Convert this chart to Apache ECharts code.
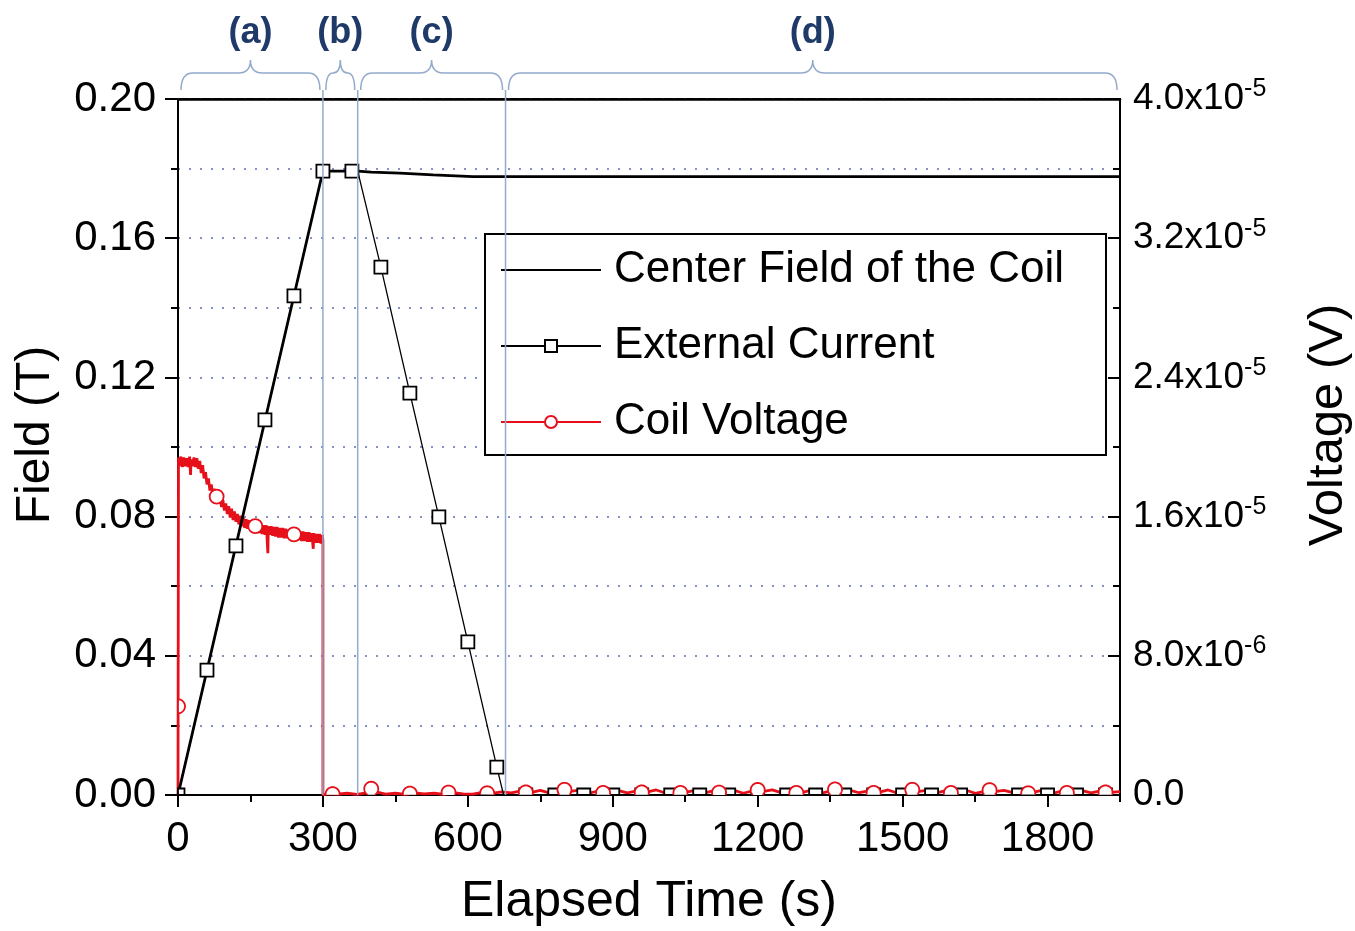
<!DOCTYPE html>
<html>
<head>
<meta charset="utf-8">
<script src="https://cdn.jsdelivr.net/npm/echarts@6/dist/echarts.min.js"></script>
<style>
html,body{margin:0;padding:0;background:#fff;}
#chart{width:1355px;height:931px;}
</style>
</head>
<body>
<div id="chart"></div>
<script>
// ---------------- data ----------------
const xTickLabels = ['0', '300', '600', '900', '1200', '1500', '1800'];
const leftTickLabels = ['0.00', '0.04', '0.08', '0.12', '0.16', '0.20'];
const rightTickMantissa = ['0.0', '8.0x10', '1.6x10', '2.4x10', '3.2x10', '4.0x10'];
const rightTickExponent = ['', '-6', '-5', '-5', '-5', '-5'];

const seriesNames = ['Center Field of the Coil', 'External Current', 'Coil Voltage'];

// Center field of the coil (T)
const fieldTime  = [0, 300, 372, 400, 459, 528, 610, 1950];
const fieldValue = [0, 0.1793, 0.1793, 0.1790, 0.1787, 0.1782, 0.1777, 0.1777];

// External current (expressed as field, T)
const currentTime  = [0, 60, 120, 180, 240, 300, 360, 372, 420, 480, 540, 600, 660, 674,
                      720, 780, 840, 900, 960, 1020, 1080, 1140, 1200, 1260, 1320, 1380,
                      1440, 1500, 1560, 1620, 1680, 1740, 1800, 1860, 1920, 1950];
const currentValue = [0, 0.0359, 0.0716, 0.1078, 0.1434, 0.1793, 0.1793, 0.1793, 0.1517, 0.1155,
                      0.0799, 0.0440, 0.0080, 0,
                      0, 0, 0, 0, 0, 0, 0, 0, 0, 0, 0, 0, 0, 0, 0, 0, 0, 0, 0, 0, 0, 0];
const currentCornerTimes = [372, 674, 1950]; // line vertices without a marker

// Coil voltage trace (microvolts)
const coilVoltageTrace = [
  [0,0],[1,19.4],[3,18.9],[6,19.45],[9,18.85],[12,19.4],[15,18.9],[18,19.35],[21,18.85],[24,19.45],
  [26,18.4],[27,19.3],[30,18.9],[33,19.4],[36,18.85],[39,19.35],[42,18.75],[45,19.2],[48,18.5],
  [51,18.95],[54,18.2],[57,18.55],[60,17.85],[63,18.2],[66,17.5],[69,17.85],[72,17.2],[75,17.6],
  [78,17.0],[81,17.4],[84,16.75],[87,17.2],[90,16.55],[93,16.95],[96,16.35],[99,16.75],[102,16.15],
  [105,16.6],[108,15.95],[111,16.45],[114,15.8],[117,16.3],[120,15.7],[123,16.15],[126,15.55],
  [129,16.05],[132,15.45],[135,15.95],[138,15.35],[141,15.85],[144,15.3],[147,15.8],[150,15.2],
  [153,15.75],[156,15.15],[159,15.7],[162,15.1],[165,15.65],[168,15.05],[171,15.55],[174,15.0],
  [177,15.5],[180,14.95],[183,15.5],[186,13.9],[187,15.45],[190,14.95],[193,15.45],[196,14.9],
  [199,15.4],[202,14.85],[205,15.4],[208,14.8],[211,15.35],[214,14.8],[217,15.35],[220,14.75],
  [223,15.3],[226,14.75],[229,15.25],[232,14.7],[235,15.25],[238,14.7],[241,15.2],[244,14.65],
  [247,15.2],[250,14.65],[253,15.15],[256,14.6],[259,15.15],[262,14.6],[265,15.1],[268,14.55],
  [271,15.1],[274,14.55],[277,15.05],[280,14.15],[281,15.05],[284,14.5],[287,15.0],[290,14.5],
  [293,15.0],[296,14.45],[299,14.95],[300,14.6],[300,0.0],
  [310,0.08],[330,0.05],[350,0.1],[370,0.04],[390,0.12],[410,0.18],[430,0.05],[450,0.1],[470,0.03],
  [490,0.12],[510,0.06],[530,0.1],[550,0.04],[570,0.14],[590,0.07],[610,0.05],[630,0.15],[650,0.09],
  [670,0.18],[690,0.12],[710,0.24],[730,0.14],[750,0.27],[770,0.11],[790,0.25],[810,0.19],[830,0.28],
  [850,0.1],[870,0.23],[890,0.15],[910,0.27],[930,0.12],[950,0.24],[970,0.16],[990,0.29],[1010,0.1],
  [1030,0.21],[1050,0.15],[1070,0.27],[1090,0.12],[1110,0.25],[1130,0.16],[1150,0.28],[1170,0.1],
  [1190,0.24],[1210,0.2],[1230,0.29],[1250,0.12],[1270,0.25],[1290,0.14],[1310,0.27],[1330,0.1],
  [1350,0.22],[1370,0.2],[1390,0.28],[1410,0.13],[1430,0.24],[1450,0.15],[1470,0.29],[1490,0.1],
  [1510,0.22],[1530,0.19],[1550,0.27],[1570,0.12],[1590,0.25],[1610,0.15],[1630,0.29],[1650,0.1],
  [1670,0.21],[1690,0.2],[1710,0.27],[1730,0.12],[1750,0.24],[1770,0.15],[1790,0.28],[1810,0.1],
  [1830,0.22],[1850,0.15],[1870,0.27],[1890,0.12],[1910,0.24],[1930,0.15],[1950,0.2]
];
// Coil voltage markers (microvolts)
const coilVoltageMarkers = [
  [0,5.1],[80,17.15],[160,15.45],[240,14.98],[320,0.05],[400,0.36],[480,0.08],[560,0.14],[640,0.1],
  [720,0.15],[800,0.3],[880,0.12],[960,0.15],[1040,0.12],[1120,0.14],[1200,0.29],[1280,0.12],
  [1360,0.32],[1440,0.12],[1520,0.3],[1600,0.12],[1680,0.28],[1760,0.1],[1840,0.12],[1920,0.15]
];

// Phases
const phaseLabels = ['(a)', '(b)', '(c)', '(d)'];
const phaseStart  = [0, 300, 372, 678];
const phaseEnd    = [300, 372, 678, 1950];
const phaseBoundaries = [300, 372, 678];

// ---------------- chart ----------------
const FONT = '"Liberation Sans", Arial, Helvetica, sans-serif';
const X_MAX = 1950, F_MAX = 0.2, V_MAX = 40;
const RED = '#e6101a';
const BLUE_LINE = '#93aacb';
const GRID_DOT = '#5f6fae';

const fieldData = fieldTime.map((t, i) => [t, fieldValue[i]]);
const currentData = currentTime.map((t, i) => [t, currentValue[i]]);
const currentMarkerData = currentData.filter(d => currentCornerTimes.indexOf(d[0]) < 0);

// draws a marker clipped to the plot rectangle (like the original plotting software)
function clippedCircle(cx, cy, r, rect, stroke) {
  const xL = rect.x, xR = rect.x + rect.width, yT = rect.y, yB = rect.y + rect.height;
  if (cx - r >= xL && cx + r <= xR && cy - r >= yT && cy + r <= yB) {
    return {type: 'circle', shape: {cx: cx, cy: cy, r: r}, style: {fill: '#fff', stroke: stroke, lineWidth: 1.8}};
  }
  const pts = [];
  const n = 72;
  for (let k = 0; k <= n; k++) {
    const th = Math.PI / 2 + k * 2 * Math.PI / n;
    const x = cx + r * Math.cos(th), y = cy + r * Math.sin(th);
    if (x >= xL && x <= xR && y >= yT && y <= yB) pts.push([x, y]);
  }
  if (pts.length < 2) return null;
  return {type: 'group', children: [
    {type: 'polygon', shape: {points: pts}, style: {fill: '#fff', stroke: null}},
    {type: 'polyline', shape: {points: pts}, style: {fill: null, stroke: stroke, lineWidth: 1.8}}
  ]};
}
function clippedSquare(cx, cy, h, rect, stroke) {
  const xL = rect.x, xR = rect.x + rect.width, yT = rect.y, yB = rect.y + rect.height;
  const x0 = Math.max(cx - h, xL), x1 = Math.min(cx + h, xR);
  const y0 = Math.max(cy - h, yT), y1 = Math.min(cy + h, yB);
  if (x1 <= x0 || y1 <= y0) return null;
  return {type: 'rect', shape: {x: x0, y: y0, width: x1 - x0, height: y1 - y0},
    style: {fill: '#fff', stroke: stroke, lineWidth: 1.8}};
}

const chart = echarts.init(document.getElementById('chart'), null, {renderer: 'canvas'});

const option = {
  animation: false,
  backgroundColor: '#fff',
  textStyle: {fontFamily: FONT},
  grid: {left: 178, right: 235, top: 99, bottom: 136, containLabel: false, outerBoundsMode: 'none',
    show: true, borderColor: '#000', borderWidth: 2, backgroundColor: 'transparent'},
  legend: {
    data: [
      {name: seriesNames[0], itemStyle: {opacity: 0}},
      {name: seriesNames[1]},
      {name: seriesNames[2]}
    ],
    orient: 'vertical',
    left: 485, top: 234,
    padding: [13, 42, 10, 15],
    itemGap: 30,
    itemWidth: 100, itemHeight: 15,
    backgroundColor: '#fff',
    borderColor: '#000', borderWidth: 2, borderRadius: 0,
    selectedMode: false,
    textStyle: {fontFamily: FONT, fontSize: 44, color: '#000', lineHeight: 46, padding: [0, 0, 0, 8]}
  },
  xAxis: [{
    type: 'value', min: 0, max: X_MAX, interval: 300, position: 'bottom',
    name: 'Elapsed Time (s)', nameLocation: 'middle', nameGap: 82,
    nameTextStyle: {fontFamily: FONT, fontSize: 50, color: '#000'},
    axisLine: {show: true, onZero: false, lineStyle: {color: '#000', width: 2}},
    axisTick: {show: true, inside: false, length: 12, lineStyle: {color: '#000', width: 2}},
    axisLabel: {fontFamily: FONT, fontSize: 42, color: '#000', margin: 23, showMaxLabel: false,
      formatter: (v, i) => (xTickLabels[i] !== undefined ? xTickLabels[i] : '')},
    splitLine: {show: false}
  }, {
    type: 'value', min: 0, max: X_MAX, interval: 150, position: 'bottom',
    axisLine: {show: false},
    axisTick: {show: true, inside: false, length: 7, lineStyle: {color: '#000', width: 2}},
    axisLabel: {show: false},
    splitLine: {show: false}
  }, {
    type: 'value', min: 0, max: X_MAX, interval: 300, position: 'top',
    axisLine: {show: true, onZero: false, lineStyle: {color: '#000', width: 2.5}},
    axisTick: {show: false},
    axisLabel: {show: false},
    splitLine: {show: false}
  }],
  yAxis: [{
    type: 'value', min: 0, max: F_MAX, interval: 0.04, position: 'left',
    name: 'Field (T)', nameLocation: 'middle', nameGap: 118, nameRotate: 90,
    nameTextStyle: {fontFamily: FONT, fontSize: 48, color: '#000', padding: [0, 0, 0, 24]},
    axisLine: {show: true, onZero: false, lineStyle: {color: '#000', width: 2}},
    axisTick: {show: true, inside: false, length: 13, lineStyle: {color: '#000', width: 2}},
    minorTick: {show: true, splitNumber: 2, length: 7, lineStyle: {color: '#000', width: 2}},
    axisLabel: {fontFamily: FONT, fontSize: 42, color: '#000', margin: 22,
      formatter: (v, i) => leftTickLabels[i] || ''},
    splitLine: {show: true, lineStyle: {color: GRID_DOT, width: 1.6, type: [2, 9]}},
    minorSplitLine: {show: true, lineStyle: {color: GRID_DOT, width: 1.6, type: [2, 9]}}
  }, {
    type: 'value', min: 0, max: V_MAX, interval: 8, position: 'right',
    name: 'Voltage (V)', nameLocation: 'middle', nameGap: 184, nameRotate: 90,
    nameTextStyle: {fontFamily: FONT, fontSize: 49, color: '#000', padding: [0, 0, 0, 44]},
    axisLine: {show: true, onZero: false, lineStyle: {color: '#000', width: 2}},
    axisTick: {show: true, inside: true, length: 12, lineStyle: {color: '#000', width: 2}},
    minorTick: {show: true, splitNumber: 2, length: 7, lineStyle: {color: '#000', width: 2}},
    axisLabel: {margin: 13, color: '#000',
      formatter: (v, i) => rightTickExponent[i] ? '{m|' + rightTickMantissa[i] + '}{e|' + rightTickExponent[i] + '}' : '{m|' + (rightTickMantissa[i] || '') + '}',
      rich: {
        m: {fontFamily: FONT, fontSize: 37, color: '#000', lineHeight: 44},
        e: {fontFamily: FONT, fontSize: 25, color: '#000', lineHeight: 22, verticalAlign: 'top'}
      }
    },
    splitLine: {show: false}
  }],
  series: [
    {
      name: seriesNames[2], type: 'line', xAxisIndex: 0, yAxisIndex: 1, z: 1,
      data: coilVoltageTrace, symbol: 'emptyCircle', showSymbol: false, symbolSize: 13,
      lineStyle: {color: RED, width: 2.8}, itemStyle: {color: RED}, silent: true
    },
    {
      name: seriesNames[0], type: 'line', xAxisIndex: 0, yAxisIndex: 0, z: 2,
      data: fieldData, symbol: 'none', showSymbol: false,
      lineStyle: {color: '#000', width: 2.8}, itemStyle: {color: '#000'}, silent: true
    },
    {
      name: seriesNames[1], type: 'line', xAxisIndex: 0, yAxisIndex: 0, z: 3,
      data: currentData, symbol: 'emptyRect', showSymbol: false, symbolSize: 13,
      lineStyle: {color: '#000', width: 1.3}, itemStyle: {color: '#000'}, silent: true
    },
    {
      name: 'currentMarkers', type: 'custom', xAxisIndex: 0, yAxisIndex: 0, z: 4, clip: false, silent: true,
      data: currentMarkerData,
      renderItem: (params, api) => {
        const p = api.coord([api.value(0), api.value(1)]);
        return clippedSquare(p[0], p[1], 6.5, params.coordSys, '#000');
      }
    },
    {
      name: 'voltageMarkers', type: 'custom', xAxisIndex: 0, yAxisIndex: 1, z: 5, clip: false, silent: true,
      data: coilVoltageMarkers,
      renderItem: (params, api) => {
        const p = api.coord([api.value(0), api.value(1)]);
        return clippedCircle(p[0], p[1], 7, params.coordSys, RED);
      }
    },
    {
      name: 'phaseLines', type: 'custom', xAxisIndex: 0, yAxisIndex: 0, z: 6, clip: false, silent: true,
      data: phaseBoundaries.map(t => [t, 0]),
      renderItem: (params, api) => {
        const bottom = api.coord([api.value(0), 0]);
        const top = api.coord([api.value(0), F_MAX]);
        return {type: 'line', shape: {x1: bottom[0], y1: bottom[1], x2: top[0], y2: top[1] - 9},
          style: {stroke: BLUE_LINE, lineWidth: 1.5}};
      }
    },
    {
      name: 'braces', type: 'custom', xAxisIndex: 0, yAxisIndex: 0, z: 7, clip: false, silent: true,
      data: phaseStart.map((s, i) => [s, phaseEnd[i]]),
      renderItem: (params, api) => {
        const top = api.coord([0, F_MAX])[1];
        const x1 = api.coord([api.value(0), F_MAX])[0] + 3;
        const x2 = api.coord([api.value(1), F_MAX])[0] - 3;
        const xm = (x1 + x2) / 2;
        const yb = top - 9, yh = top - 26, yt = top - 39;
        const r = Math.min(12, (x2 - x1) / 4);
        const d = 'M' + x1 + ' ' + yb +
          ' Q' + x1 + ' ' + yh + ' ' + (x1 + r) + ' ' + yh +
          ' L' + (xm - r) + ' ' + yh +
          ' Q' + xm + ' ' + yh + ' ' + xm + ' ' + yt +
          ' Q' + xm + ' ' + yh + ' ' + (xm + r) + ' ' + yh +
          ' L' + (x2 - r) + ' ' + yh +
          ' Q' + x2 + ' ' + yh + ' ' + x2 + ' ' + yb;
        return {type: 'group', children: [
          {type: 'path', shape: {pathData: d}, style: {fill: 'none', stroke: BLUE_LINE, lineWidth: 1.5}},
          {type: 'text', style: {text: phaseLabels[params.dataIndex], x: xm, y: top - 66,
            fill: '#1f3a68', font: 'bold 36px ' + FONT, align: 'center', verticalAlign: 'middle'}}
        ]};
      }
    }
  ]
};
chart.setOption(option);
</script>
</body>
</html>
